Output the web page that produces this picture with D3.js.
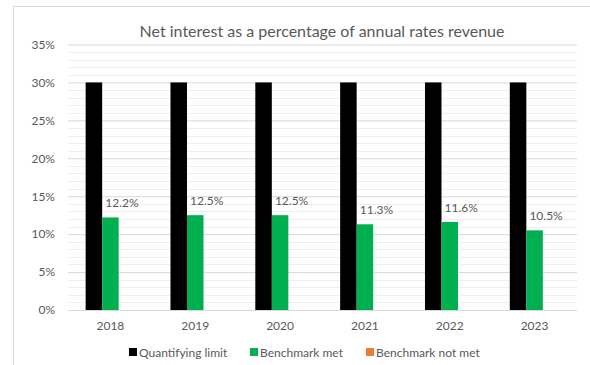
<!DOCTYPE html>
<html>
<head>
<meta charset="utf-8">
<script src="https://cdn.jsdelivr.net/npm/d3@7"></script>
<style>
  html, body { margin: 0; padding: 0; background: #fff; }
  svg { display: block; font-family: Lato, "Open Sans", sans-serif; }
</style>
</head>
<body>
<svg id="chart" width="590" height="365"></svg>
<script>
// Chart data
const years = ["2018", "2019", "2020", "2021", "2022", "2023"];
const quantifyingLimit = [30, 30, 30, 30, 30, 30];
const benchmarkMet = [12.2, 12.5, 12.5, 11.3, 11.6, 10.5];
const benchmarkNotMet = [null, null, null, null, null, null];
const seriesNames = ["Quantifying limit", "Benchmark met", "Benchmark not met"];
const seriesColors = ["#000000", "#00b050", "#ed7d31"];
const yTicks = [0, 5, 10, 15, 20, 25, 30, 35];
const title = "Net interest as a percentage of annual rates revenue";

const seriesValues = [quantifyingLimit, benchmarkMet, benchmarkNotMet];

const svg = d3.select("#chart");
const W = 590, H = 365;
const plot = { left: 68, right: 577, top: 44.5, bottom: 310 };
const textColor = "#595959";

// Chart area frame (top and left edges)
svg.append("line").attr("x1", 13.5).attr("x2", W).attr("y1", 6.5).attr("y2", 6.5)
  .attr("stroke", "#d9d9d9").attr("stroke-width", 1);
svg.append("line").attr("x1", 13.5).attr("x2", 13.5).attr("y1", 6.5).attr("y2", H)
  .attr("stroke", "#d9d9d9").attr("stroke-width", 1);

// Title
svg.append("text")
  .attr("x", 322).attr("y", 37)
  .attr("text-anchor", "middle")
  .attr("fill", textColor)
  .style("font-size", "16px")
  .text(title);

// Scales
const y = d3.scaleLinear().domain([0, 35]).range([plot.bottom, plot.top]);
const x = d3.scaleBand().domain(years).range([plot.left, plot.right])
  .paddingInner(0.416).paddingOuter(0.208);
const xs = d3.scaleBand().domain(seriesNames).range([0, x.bandwidth()]);

// Minor gridlines (every 1%)
const minor = d3.range(0, 36).filter(v => v % 5 !== 0);
svg.append("g").selectAll("line").data(minor).join("line")
  .attr("x1", plot.left).attr("x2", plot.right)
  .attr("y1", d => Math.round(y(d)) + 0.5).attr("y2", d => Math.round(y(d)) + 0.5)
  .attr("stroke", "#efefef").attr("stroke-width", 1);

// Major gridlines + y axis labels
const yAxis = d3.axisLeft(y).tickValues(yTicks).tickFormat(d => d + "%")
  .tickSize(-(plot.right - plot.left)).tickPadding(13);
const gy = svg.append("g").attr("transform", `translate(${plot.left},0)`).call(yAxis);
gy.select(".domain").remove();
gy.selectAll(".tick line").attr("stroke", "#d9d9d9");
gy.selectAll(".tick text").attr("fill", textColor).style("font-size", "12px")
  .style("font-family", "Lato, 'Open Sans', sans-serif");

// Bars
const groups = svg.append("g").selectAll("g").data(years).join("g")
  .attr("transform", d => `translate(${x(d)},0)`);
seriesNames.forEach((name, si) => {
  groups.append("rect")
    .attr("x", xs(name))
    .attr("width", xs.bandwidth())
    .attr("y", (d, i) => y(seriesValues[si][i] || 0))
    .attr("height", (d, i) => y(0) - y(seriesValues[si][i] || 0))
    .attr("fill", seriesColors[si]);
});

// Data labels on the benchmark series
groups.append("text")
  .attr("x", xs("Benchmark met") + xs.bandwidth() / 2 + 11.5)
  .attr("y", (d, i) => y(benchmarkMet[i]) - 10.5)
  .attr("text-anchor", "middle")
  .attr("fill", textColor)
  .style("font-size", "12px")
  .text((d, i) => benchmarkMet[i].toFixed(1) + "%");

// X axis labels
const xAxis = d3.axisBottom(x).tickSize(0).tickPadding(11);
const gx = svg.append("g").attr("transform", `translate(0,${plot.bottom})`).call(xAxis);
gx.select(".domain").remove();
gx.selectAll(".tick text").attr("fill", textColor).style("font-size", "12px")
  .style("font-family", "Lato, 'Open Sans', sans-serif");

// Legend
const legendX = [129, 250, 366];
const legend = svg.append("g").selectAll("g").data(seriesNames).join("g")
  .attr("transform", (d, i) => `translate(${legendX[i]},352)`);
legend.append("rect").attr("x", 0).attr("y", -4).attr("width", 8).attr("height", 8)
  .attr("fill", (d, i) => seriesColors[i]);
legend.append("text").attr("x", 10).attr("y", 4.5)
  .attr("fill", textColor).style("font-size", "12px")
  .text(d => d);
</script>
</body>
</html>
